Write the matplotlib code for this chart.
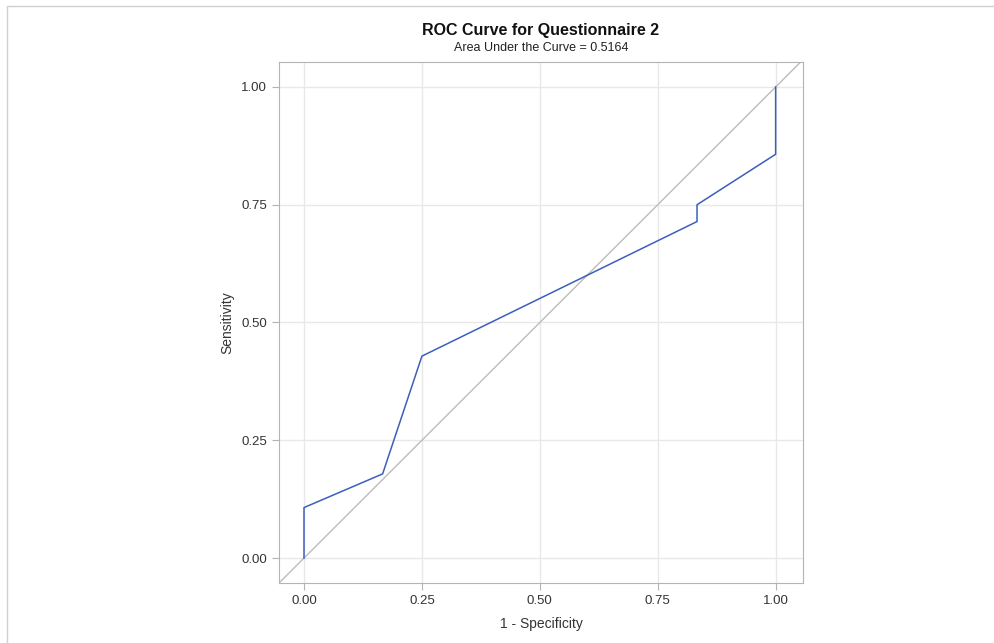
import matplotlib.pyplot as plt
from matplotlib.patches import Rectangle

plt.rcParams['font.family'] = ['Liberation Sans', 'DejaVu Sans']

# ROC points (1 - specificity, sensitivity)
fpr = [0.0, 0.0, 0.1667, 0.25, 0.8333, 0.8333, 1.0, 1.0]
tpr = [0.0, 0.1071, 0.1786, 0.4286, 0.7143, 0.75, 0.8571, 1.0]
ticks = [0.0, 0.25, 0.5, 0.75, 1.0]
tick_labels = ['0.00', '0.25', '0.50', '0.75', '1.00']
auc = 0.5164

fig = plt.figure(figsize=(9.95, 6.43), dpi=100)
fig.patches.append(Rectangle((7/995, -0.1), 1.2, 1 - 6/643 + 0.1, transform=fig.transFigure,
                             fill=False, edgecolor='#d0d0d0', linewidth=1))

ax = fig.add_axes([279/995, 60/643, 524/995, 521/643])
ax.set_xlim(-0.053, 1.058)
ax.set_ylim(-0.053, 1.053)

ax.plot([-0.053, 1.058], [-0.053, 1.058], color='#bcbcbc', linewidth=1, zorder=2)
ax.plot(fpr, tpr, color='#3b5fbd', linewidth=1.1, zorder=3)

ax.set_xticks(ticks)
ax.set_xticklabels(tick_labels)
ax.set_yticks(ticks)
ax.set_yticklabels(tick_labels)
ax.grid(True, color='#e8e8e8', linewidth=1)
ax.set_axisbelow(True)
for s in ax.spines.values():
    s.set_color('#b4b4b4')
ax.tick_params(colors='#b4b4b4', labelcolor='#333333', labelsize=9.5, length=5, direction='out')

ax.set_xlabel('1 - Specificity', fontsize=10, color='#333333', labelpad=7)
ax.set_ylabel('Sensitivity', fontsize=10, color='#333333', labelpad=5)

fig.text(541/995, 1 - 31/643, 'ROC Curve for Questionnaire 2', ha='center', va='center',
         fontsize=11.5, fontweight='bold', color='#111111')
fig.text(541/995, 1 - 48/643, 'Area Under the Curve = %.4f' % auc, ha='center', va='center',
         fontsize=9, color='#222222')

fig.savefig('out.png', dpi=100)
